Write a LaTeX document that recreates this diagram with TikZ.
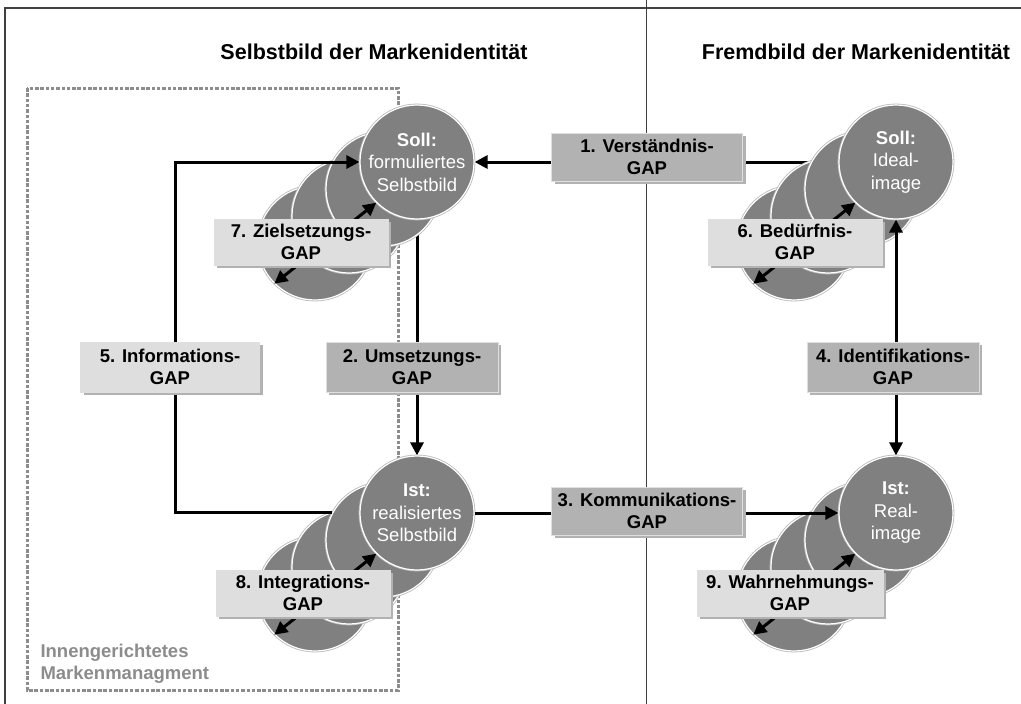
\documentclass[tikz,border=0pt]{standalone}
\usepackage{fontspec}
\setmainfont{Liberation Sans}
\usetikzlibrary{arrows.meta,backgrounds,shadows}

\definecolor{discfill}{HTML}{808080}
\definecolor{gapdark}{HTML}{B2B2B2}
\definecolor{gaplight}{HTML}{DEDEDE}
\definecolor{framegray}{HTML}{404040}
\definecolor{zonegray}{HTML}{8C8C8C}

\begin{document}
\begin{tikzpicture}[x=1pt,y=-1pt,
  disc/.style={circle, minimum size=114pt, inner sep=0pt, fill=discfill,
    draw=white, line width=1.2pt, preaction={draw=gray!55, line width=2.8pt},
    text=white, align=center, font=\fontsize{18.5}{22.5}\selectfont},
  gapbase/.style={rectangle, inner sep=0pt, align=center, draw=gray!25, line width=0.8pt,
    font=\bfseries\fontsize{18.5}{22.5}\selectfont,
    drop shadow={shadow xshift=3pt, shadow yshift=-3pt, fill=gray!60, opacity=1}},
  gapstrong/.style={gapbase, fill=gapdark},
  gapsoft/.style={gapbase, fill=gaplight},
  conn/.style={line width=3pt, -{Triangle[length=13pt,width=13pt]}},
  bothconn/.style={line width=3pt, {Triangle[length=13pt,width=13pt]}-{Triangle[length=13pt,width=13pt]}},
  heading/.style={font=\bfseries\fontsize{21.5}{25}\selectfont},
]
\useasboundingbox (0,0) rectangle (1021,704);

% frame and divider between the two halves
\draw[framegray, line width=1.5pt] (5,704) -- (5,8) -- (1021,8);
\draw[framegray, line width=1pt] (646,0) -- (646,704);

% headings
\node[heading] (hself) at (374,52) {Selbstbild der Markenidentität};
\node[heading] (hother) at (856,52) {Fremdbild der Markenidentität};

% inward-facing brand management zone
\draw[zonegray, line width=3pt, dash pattern=on 3.5pt off 1.8pt] (27,88) rectangle (398,690);
\node[anchor=west, align=left, text=zonegray, font=\bfseries\fontsize{18.5}{22}\selectfont] (zone) at (37,664)
  {Innengerichtetes\\Markenmanagment};

% circle stacks (back to front)
\foreach \cx/\cy/\nm in {417/162/sollL, 896/162/sollR, 417/513/istL, 896/513/istR} {
  \node[disc] (\nm4) at (\cx-102,\cy+81) {};
  \node[disc] (\nm3) at (\cx-68,\cy+54) {};
  \node[disc] (\nm2) at (\cx-34,\cy+27) {};
}
\node[disc] (sollL) at (417,162) {\textbf{Soll:}\\formuliertes\\Selbstbild};
\node[disc] (sollR) at (896,162) {\textbf{Soll:}\\Ideal-\\image};
\node[disc] (istL) at (417,513) {\textbf{Ist:}\\realisiertes\\Selbstbild};
\node[disc] (istR) at (896,513) {\textbf{Ist:}\\Real-\\image};

% connectors that emerge from behind the stacks
\begin{scope}[on background layer]
  \draw[conn] (sollR.center) -- (sollL.east);
  \draw[conn] (sollL.center) -- (istL.north);
\end{scope}

% gaps inside each stack
\foreach \nm in {sollL, sollR, istL, istR}
  \draw[bothconn] (\nm4.225) -- (\nm.225);

% connectors drawn over the stacks
\coordinate (loopx) at (175,367);
\draw[conn] (istL2.152) -| (loopx) |- (sollL.west);
\draw[conn] (istL.east) -- (istR.west);
\draw[bothconn] (sollR.south) -- (istR.north);

% gap labels
\node[gapstrong, minimum width=191pt, minimum height=48pt] (verst) at (647,157) {1. Verständnis-\\GAP};
\node[gapstrong, minimum width=172pt, minimum height=50pt] (ums) at (412,367) {2. Umsetzungs-\\GAP};
\node[gapstrong, minimum width=191pt, minimum height=48pt] (komm) at (647,511) {3. Kommunikations-\\GAP};
\node[gapstrong, minimum width=172pt, minimum height=50pt] (ident) at (893,367) {4. Identifikations-\\GAP};
\node[gapsoft, minimum width=179pt, minimum height=50pt] (info) at (170,367) {5. Informations-\\GAP};
\node[gapsoft, minimum width=174pt, minimum height=46pt] (beduerf) at (795,242) {6. Bedürfnis-\\GAP};
\node[gapsoft, minimum width=174pt, minimum height=46pt] (ziel) at (301,242) {7. Zielsetzungs-\\GAP};
\node[gapsoft, minimum width=174pt, minimum height=46pt] (integ) at (303,593) {8. Integrations-\\GAP};
\node[gapsoft, minimum width=186pt, minimum height=46pt] (wahrn) at (790,593) {9. Wahrnehmungs-\\GAP};
\end{tikzpicture}
\end{document}
